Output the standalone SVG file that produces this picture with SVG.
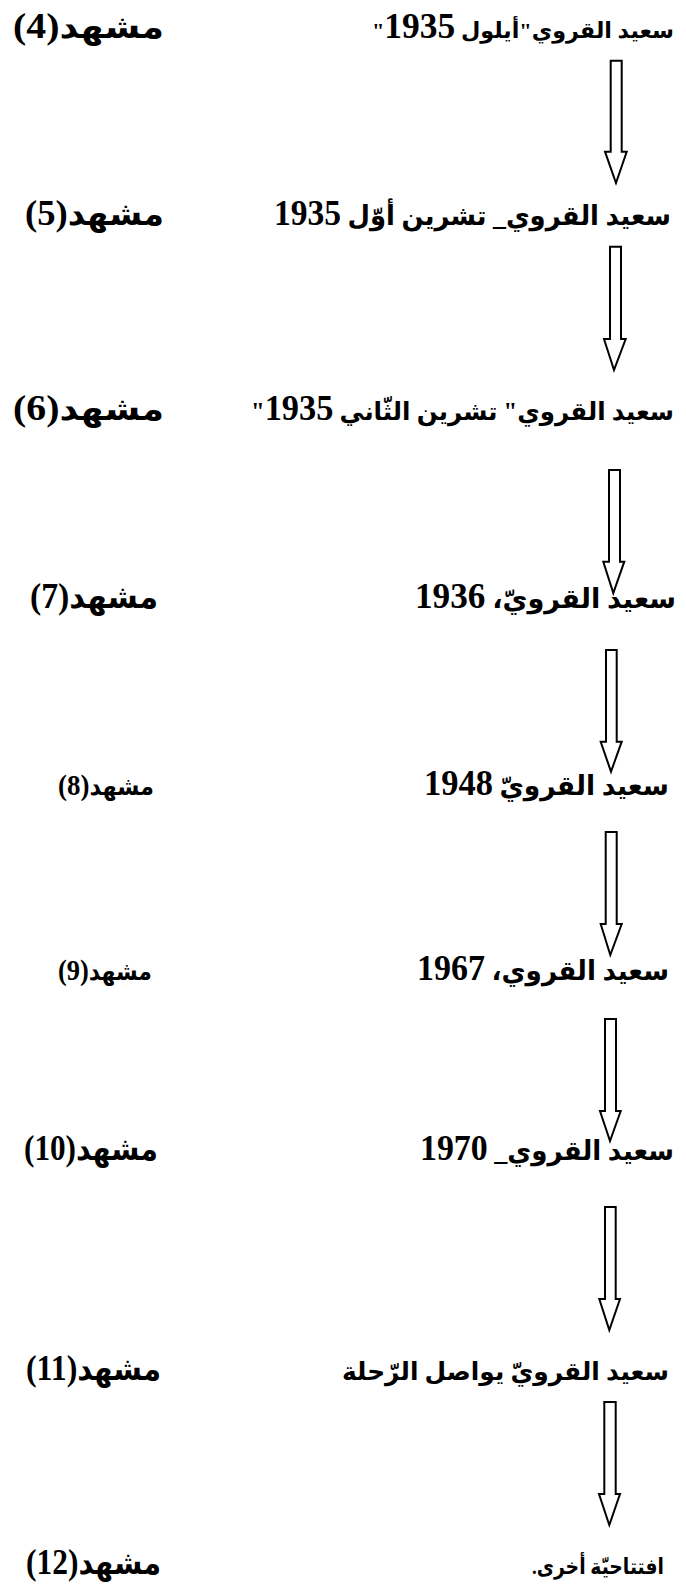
<svg xmlns="http://www.w3.org/2000/svg" width="686" height="1588" viewBox="0 0 686 1588">
<style>
.t{font-family:"Liberation Serif","DejaVu Sans",serif;font-weight:bold;font-size:27px;fill:#000;direction:rtl;unicode-bidi:embed;text-anchor:end}
.s{font-size:25px}
.xs{font-size:22px}
.d{font-size:35px}
.l{font-size:32px}
.ls{font-size:25px}
.ds{font-size:30px}
.a{fill:#fff;stroke:#000;stroke-width:2;stroke-linejoin:miter}
</style>
<rect width="686" height="1588" fill="#fff"/>
<g id="connectors">
<polygon class="a" points="610.7,60.7 621.7,60.7 621.7,151.7 626.7,151.7 616,183 605,151.7 610.7,151.7"/>
<polygon class="a" points="610,246.7 621,246.7 621,339 625.7,339 614,370 604,339 610,339"/>
<polygon class="a" points="609,470 620,470 620,561.7 624.3,561.7 613.3,593 603.3,561.7 609,561.7"/>
<polygon class="a" points="606,650 616.7,650 616.7,741.7 621.7,741.7 611,771.7 600.7,741.7 606,741.7"/>
<polygon class="a" points="605.7,832 616.7,832 616.7,924 621.7,924 610.3,955 600.7,924 605.7,924"/>
<polygon class="a" points="605,1019 616,1019 616,1111 620.7,1111 610,1141 600,1111 605,1111"/>
<polygon class="a" points="605,1207 615.7,1207 615.7,1299 620,1299 609.3,1330 599.3,1299 605,1299"/>
<polygon class="a" points="604.3,1402 615.7,1402 615.7,1494 620,1494 609.3,1525 599,1494 604.3,1494"/>
</g>
<g id="n4"><text class="t xs" x="372" y="38" textLength="302" lengthAdjust="spacingAndGlyphs">سعيد القروي"أيلول <tspan class="d">1935</tspan>"</text><text class="t l" x="13" y="38" textLength="151" lengthAdjust="spacingAndGlyphs">مشهد<tspan class="d">(4)</tspan></text></g>
<g id="n5"><text class="t" x="274" y="225" textLength="397" lengthAdjust="spacingAndGlyphs">سعيد القروي_ تشرين أوّل <tspan class="d">1935</tspan></text><text class="t l" x="25" y="225" textLength="139" lengthAdjust="spacingAndGlyphs">مشهد<tspan class="d">(5)</tspan></text></g>
<g id="n6"><text class="t s" x="251" y="420" textLength="423" lengthAdjust="spacingAndGlyphs">سعيد القروي" تشرين الثّاني <tspan class="d">1935</tspan>"</text><text class="t l" x="13" y="420" textLength="151" lengthAdjust="spacingAndGlyphs">مشهد<tspan class="d">(6)</tspan></text></g>
<g id="n7"><text class="t" x="415" y="608" textLength="261" lengthAdjust="spacingAndGlyphs">سعيد القرويّ، <tspan class="d">1936</tspan></text><text class="t l" x="30" y="608" textLength="128" lengthAdjust="spacingAndGlyphs">مشهد<tspan class="d">(7)</tspan></text></g>
<g id="n8"><text class="t" x="424" y="795" textLength="245" lengthAdjust="spacingAndGlyphs">سعيد القرويّ <tspan class="d">1948</tspan></text><text class="t ls" x="58" y="795" textLength="96" lengthAdjust="spacingAndGlyphs">مشهد<tspan class="ds">(8)</tspan></text></g>
<g id="n9"><text class="t" x="417" y="980" textLength="252" lengthAdjust="spacingAndGlyphs">سعيد القروي، <tspan class="d">1967</tspan></text><text class="t ls" x="58" y="980" textLength="94" lengthAdjust="spacingAndGlyphs">مشهد<tspan class="ds">(9)</tspan></text></g>
<g id="n10"><text class="t" x="420" y="1160" textLength="254" lengthAdjust="spacingAndGlyphs">سعيد القروي_ <tspan class="d">1970</tspan></text><text class="t l" x="24" y="1160" textLength="134" lengthAdjust="spacingAndGlyphs">مشهد<tspan class="d">(10)</tspan></text></g>
<g id="n11"><text class="t s" x="342" y="1380" textLength="327" lengthAdjust="spacingAndGlyphs">سعيد القرويّ يواصل الرّحلة</text><text class="t l" x="26" y="1380" textLength="135" lengthAdjust="spacingAndGlyphs">مشهد<tspan class="d">(11)</tspan></text></g>
<g id="n12"><text class="t" x="532" y="1574" textLength="132" lengthAdjust="spacingAndGlyphs" style="font-size:22px">افتتاحيّة أخرى.</text><text class="t l" x="26" y="1574" textLength="135" lengthAdjust="spacingAndGlyphs">مشهد<tspan class="d">(12)</tspan></text></g>
</svg>
